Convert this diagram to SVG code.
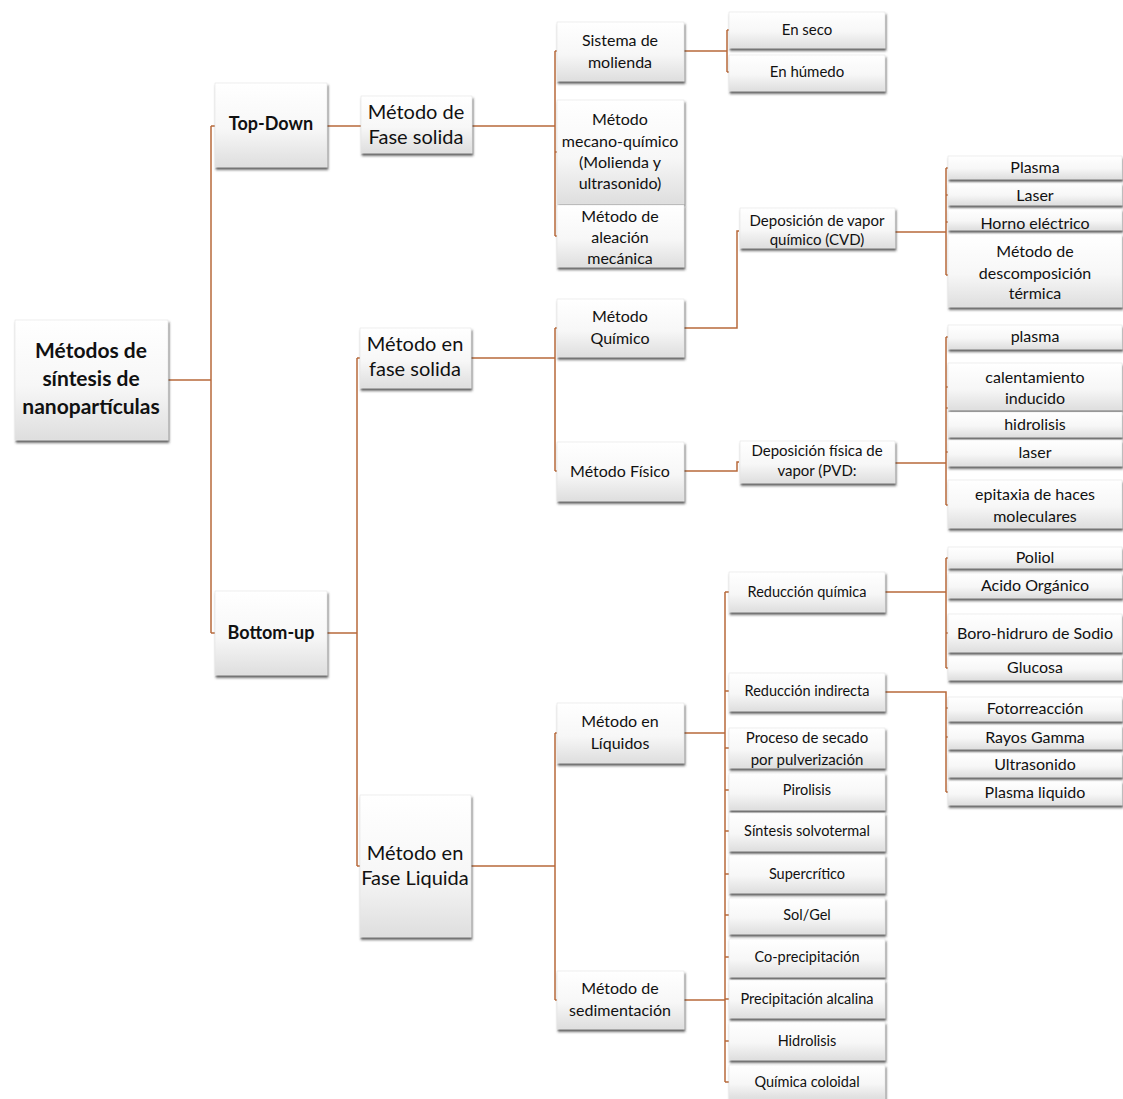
<svg xmlns="http://www.w3.org/2000/svg" width="1123" height="1099" viewBox="0 0 1123 1099">
<defs>
  <linearGradient id="boxFill" x1="0" y1="0" x2="0" y2="1">
    <stop offset="0" stop-color="#ffffff"/>
    <stop offset="0.55" stop-color="#f7f7f7"/>
    <stop offset="1" stop-color="#dedede"/>
  </linearGradient>
  <filter id="shadow" x="-10%" y="-10%" width="125%" height="140%">
    <feDropShadow dx="1" dy="2.5" stdDeviation="1.2" flood-color="#2a2a2a" flood-opacity="0.75"/>
  </filter>
  <style>
    .box { fill: url(#boxFill); stroke: #e4e4e4; stroke-width: 0.6; filter: url(#shadow); }
    text { font-family: Lato, "Open Sans", "Liberation Sans", sans-serif; fill: #111; text-anchor: middle; }
    .t21b { font-size: 21px; font-weight: bold; }
    .t18b { font-size: 18px; font-weight: bold; }
    .t20 { font-size: 20px; }
    .t16 { font-size: 16px; }
    .t15 { font-size: 15px; }
    .t14 { font-size: 14.5px; }
    .link { fill: none; stroke: #b8693b; stroke-width: 1.5; }
  </style>
</defs>
<rect width="1123" height="1099" fill="#ffffff"/>

<!-- connectors -->
<g id="connectors">
  <path class="link" d="M168 380 H211 M211 126 V633 M211 126 H215 M211 633 H215"/>
  <path class="link" d="M327 126 H361 M472 126 H555 M555 51 V236 M555 51 H557 M555 152 H557 M555 236 H557"/>
  <path class="link" d="M684 51 H727 M727 30 V72 M727 30 H729 M727 72 H729"/>
  <path class="link" d="M327 633 H357 M357 358 V866 M357 358 H360 M357 866 H360"/>
  <path class="link" d="M471 358 H555 M555 328 V471 M555 328 H557 M555 471 H557"/>
  <path class="link" d="M684 328 H737 V231 H739"/>
  <path class="link" d="M684 471 H737 V462 H739"/>
  <path class="link" d="M895 232 H946 M946 168 V275 M946 168 H948 M946 195 H948 M946 222 H948 M946 275 H948"/>
  <path class="link" d="M895 463 H946 M946 337 V505 M946 337 H948 M946 387 H948 M946 408 H948 M946 452 H948 M946 505 H948"/>
  <path class="link" d="M471 866 H555 M555 733 V1000 M555 733 H557 M555 1000 H557"/>
  <path class="link" d="M684 733 H725 M684 1000 H725 M725 592 V1082 M725 592 H729 M725 691 H729 M725 748 H729 M725 790 H729 M725 831 H729 M725 874 H729 M725 915 H729 M725 957 H729 M725 999 H729 M725 1041 H729 M725 1082 H729"/>
  <path class="link" d="M885 592 H946 M946 558 V668 M946 558 H948 M946 633 H948 M946 668 H948"/>
  <path class="link" d="M885 692 H946 V792 M946 708 H948 M946 737 H948 M946 792 H948"/>
</g>

<!-- root -->
<g id="n-root">
  <rect class="box" x="15" y="320" width="153" height="120"/>
  <text class="t21b" x="91" y="358">Métodos de</text>
  <text class="t21b" x="91" y="386">síntesis de</text>
  <text class="t21b" x="91" y="414">nanopartículas</text>
</g>

<!-- level 1 -->
<g id="n-topdown">
  <rect class="box" x="215" y="83" width="112" height="84"/>
  <text class="t18b" x="271" y="130">Top-Down</text>
</g>
<g id="n-bottomup">
  <rect class="box" x="215" y="591" width="112" height="84"/>
  <text class="t18b" x="271" y="639">Bottom-up</text>
</g>

<!-- level 2 -->
<g id="n-fase-solida-td">
  <rect class="box" x="361" y="96" width="111" height="57"/>
  <text class="t20" x="416" y="119">Método de</text>
  <text class="t20" x="416" y="144">Fase solida</text>
</g>
<g id="n-fase-solida-bu">
  <rect class="box" x="360" y="328" width="111" height="60"/>
  <text class="t20" x="415" y="351">Método en</text>
  <text class="t20" x="415" y="376">fase solida</text>
</g>
<g id="n-fase-liquida">
  <rect class="box" x="360" y="795" width="111" height="142"/>
  <text class="t20" x="415" y="860">Método en</text>
  <text class="t20" x="415" y="885">Fase Liquida</text>
</g>

<!-- level 3 -->
<g id="n-molienda">
  <rect class="box" x="557" y="22" width="127" height="59"/>
  <text class="t16" x="620" y="46">Sistema de</text>
  <text class="t16" x="620" y="68">molienda</text>
</g>
<g id="n-mecano">
  <rect class="box" x="557" y="100" width="127" height="104"/>
  <text class="t16" x="620" y="125">Método</text>
  <text class="t16" x="620" y="147">mecano-químico</text>
  <text class="t16" x="620" y="168">(Molienda y</text>
  <text class="t16" x="620" y="189">ultrasonido)</text>
</g>
<g id="n-aleacion">
  <rect class="box" x="557" y="205" width="127" height="62"/>
  <text class="t16" x="620" y="222">Método  de</text>
  <text class="t16" x="620" y="243">aleación</text>
  <text class="t16" x="620" y="264">mecánica</text>
</g>
<g id="n-quimico">
  <rect class="box" x="557" y="299" width="127" height="58"/>
  <text class="t16" x="620" y="322">Método</text>
  <text class="t16" x="620" y="344">Químico</text>
</g>
<g id="n-fisico">
  <rect class="box" x="557" y="442" width="127" height="59"/>
  <text class="t16" x="620" y="477">Método  Físico</text>
</g>
<g id="n-liquidos">
  <rect class="box" x="557" y="703" width="127" height="60"/>
  <text class="t16" x="620" y="727">Método  en</text>
  <text class="t16" x="620" y="749">Líquidos</text>
</g>
<g id="n-sedimentacion">
  <rect class="box" x="557" y="971" width="127" height="58"/>
  <text class="t16" x="620" y="994">Método  de</text>
  <text class="t16" x="620" y="1016">sedimentación</text>
</g>

<!-- level 4 -->
<g id="n-seco">
  <rect class="box" x="729" y="12" width="156" height="36"/>
  <text class="t15" x="807" y="35">En seco</text>
</g>
<g id="n-humedo">
  <rect class="box" x="729" y="55" width="156" height="36"/>
  <text class="t15" x="807" y="77">En húmedo</text>
</g>
<g id="n-cvd">
  <rect class="box" x="740" y="208" width="155" height="40"/>
  <text class="t15" x="817" y="226">Deposición de vapor</text>
  <text class="t15" x="817" y="245">químico (CVD)</text>
</g>
<g id="n-pvd">
  <rect class="box" x="740" y="441" width="155" height="42"/>
  <text class="t15" x="817" y="456">Deposición física de</text>
  <text class="t15" x="817" y="476">vapor (PVD:</text>
</g>
<g id="n-red-quimica">
  <rect class="box" x="729" y="572" width="156" height="40"/>
  <text class="t14" x="807" y="597">Reducción química</text>
</g>
<g id="n-red-indirecta">
  <rect class="box" x="729" y="673" width="156" height="38"/>
  <text class="t14" x="807" y="696">Reducción indirecta</text>
</g>
<g id="n-secado">
  <rect class="box" x="729" y="728" width="156" height="40"/>
  <text class="t15" x="807" y="743">Proceso de secado</text>
  <text class="t15" x="807" y="765">por pulverización</text>
</g>
<g id="n-pirolisis">
  <rect class="box" x="729" y="773" width="156" height="37"/>
  <text class="t14" x="807" y="795">Pirolisis</text>
</g>
<g id="n-solvotermal">
  <rect class="box" x="729" y="813" width="156" height="38"/>
  <text class="t14" x="807" y="836">Síntesis solvotermal</text>
</g>
<g id="n-supercritico">
  <rect class="box" x="729" y="855" width="156" height="38"/>
  <text class="t14" x="807" y="879">Supercrítico</text>
</g>
<g id="n-solgel">
  <rect class="box" x="729" y="898" width="156" height="36"/>
  <text class="t14" x="807" y="920">Sol/Gel</text>
</g>
<g id="n-coprecipitacion">
  <rect class="box" x="729" y="939" width="156" height="38"/>
  <text class="t14" x="807" y="962">Co-precipitación</text>
</g>
<g id="n-alcalina">
  <rect class="box" x="729" y="980" width="156" height="38"/>
  <text class="t14" x="807" y="1004">Precipitación alcalina</text>
</g>
<g id="n-hidrolisis-sed">
  <rect class="box" x="729" y="1022" width="156" height="38"/>
  <text class="t14" x="807" y="1046">Hidrolisis</text>
</g>
<g id="n-coloidal">
  <rect class="box" x="729" y="1065" width="156" height="34"/>
  <text class="t14" x="807" y="1087">Química coloidal</text>
</g>

<!-- level 5: CVD -->
<g id="n-plasma-cvd">
  <rect class="box" x="948" y="156" width="174" height="23"/>
  <text class="t16" x="1035" y="173">Plasma</text>
</g>
<g id="n-laser-cvd">
  <rect class="box" x="948" y="183" width="174" height="22"/>
  <text class="t16" x="1035" y="201">Laser</text>
</g>
<g id="n-horno">
  <rect class="box" x="948" y="209" width="174" height="21"/>
  <text class="t16" x="1035" y="229">Horno  eléctrico</text>
</g>
<g id="n-descomposicion">
  <rect class="box" x="948" y="234" width="174" height="73"/>
  <text class="t16" x="1035" y="257">Método  de</text>
  <text class="t16" x="1035" y="279">descomposición</text>
  <text class="t16" x="1035" y="299">térmica</text>
</g>

<!-- level 5: PVD -->
<g id="n-plasma-pvd">
  <rect class="box" x="948" y="325" width="174" height="24"/>
  <text class="t16" x="1035" y="342">plasma</text>
</g>
<g id="n-calentamiento">
  <rect class="box" x="948" y="363" width="174" height="47"/>
  <text class="t16" x="1035" y="383">calentamiento</text>
  <text class="t16" x="1035" y="404">inducido</text>
</g>
<g id="n-hidrolisis-pvd">
  <rect class="box" x="948" y="412" width="174" height="25"/>
  <text class="t16" x="1035" y="430">hidrolisis</text>
</g>
<g id="n-laser-pvd">
  <rect class="box" x="948" y="440" width="174" height="26"/>
  <text class="t16" x="1035" y="458">laser</text>
</g>
<g id="n-epitaxia">
  <rect class="box" x="948" y="480" width="174" height="48"/>
  <text class="t16" x="1035" y="500">epitaxia de haces</text>
  <text class="t16" x="1035" y="522">moleculares</text>
</g>

<!-- level 5: reducción química -->
<g id="n-poliol">
  <rect class="box" x="948" y="547" width="174" height="21"/>
  <text class="t16" x="1035" y="563">Poliol</text>
</g>
<g id="n-acido">
  <rect class="box" x="948" y="573" width="174" height="25"/>
  <text class="t16" x="1035" y="591">Acido Orgánico</text>
</g>
<g id="n-borohidruro">
  <rect class="box" x="948" y="614" width="174" height="38"/>
  <text class="t16" x="1035" y="639">Boro-hidruro  de Sodio</text>
</g>
<g id="n-glucosa">
  <rect class="box" x="948" y="656" width="174" height="24"/>
  <text class="t16" x="1035" y="673">Glucosa</text>
</g>

<!-- level 5: reducción indirecta -->
<g id="n-fotorreaccion">
  <rect class="box" x="948" y="697" width="174" height="24"/>
  <text class="t16" x="1035" y="714">Fotorreacción</text>
</g>
<g id="n-gamma">
  <rect class="box" x="948" y="725" width="174" height="24"/>
  <text class="t16" x="1035" y="743">Rayos Gamma</text>
</g>
<g id="n-ultrasonido">
  <rect class="box" x="948" y="753" width="174" height="24"/>
  <text class="t16" x="1035" y="770">Ultrasonido</text>
</g>
<g id="n-plasma-liquido">
  <rect class="box" x="948" y="781" width="174" height="24"/>
  <text class="t16" x="1035" y="798">Plasma liquido</text>
</g>
</svg>
